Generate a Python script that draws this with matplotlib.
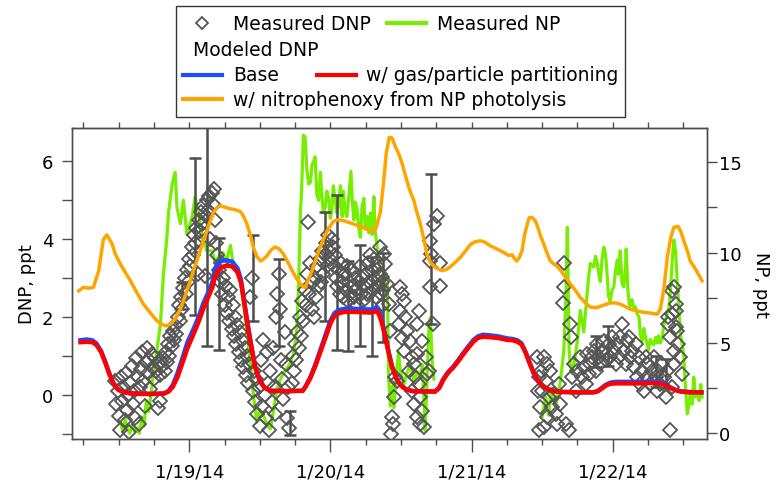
import numpy as np
import matplotlib
matplotlib.use('Agg')
import matplotlib.pyplot as plt
from matplotlib.lines import Line2D
from matplotlib.patches import Rectangle
from matplotlib.ticker import NullFormatter

plt.rcParams['font.family'] = 'DejaVu Sans'
plt.rcParams['font.size'] = 13

# time axis: hours since 1/19/14 00:00
day_ticks = [0, 24, 48, 72]
day_labels = ['1/19/14', '1/20/14', '1/21/14', '1/22/14']

# measured DNP (ppt, left axis)
dnp_h = [-12.6, -12.4, -12.2, -12.0, -11.8, -11.6, -11.4, -11.2, -11.0, -10.8, -10.6, -10.4, -10.2, -10.0,
         -9.8, -9.6, -9.4, -9.2, -9.0, -8.8, -8.6, -8.4, -8.2, -8.0, -7.8, -7.6, -7.4, -7.2, -7.0, -6.8,
         -6.6, -6.4, -6.2, -6.0, -5.8, -5.6, -5.4, -5.2, -5.0, -4.9,
         -4.6, -4.4, -4.2, -4.0, -3.8, -3.6, -3.4, -3.2, -3.0, -2.8, -2.6, -2.4, -2.2, -2.0, -1.8, -1.6,
         -1.4, -1.2, -1.0, -0.8, -0.6, -0.4, -0.2, 0.0, 0.2, 0.4, 0.6, 0.8, 1.0, 1.2, 1.4, 1.6, 1.8, 2.0,
         2.2, 2.4, 2.6, 2.8, 3.0, 3.2, 3.4, 3.6, 3.8, 4.0, 4.2, 4.4, 4.6,
         4.8, 5.0, 5.2, 5.4, 5.6, 5.8, 6.0, 6.2, 6.4, 6.6, 6.8, 7.0, 7.2, 7.4, 7.6, 7.8, 8.0, 8.2, 8.4,
         8.6, 8.8, 9.0, 9.2, 9.4, 9.6, 9.8, 10.0, 10.2, 10.4, 10.6, 10.8, 11.0, 11.2, 11.4, 11.6, 11.8,
         12.0, 12.2, 12.4, 12.6, 12.8, 13.0, 13.2, 13.4, 13.6, 13.8, 14.0, 14.2, 14.4, 14.6, 14.8, 15.0,
         15.2, 15.4, 15.6, 15.8, 16.0, 16.2, 16.4, 16.6, 16.8, 17.0,
         17.4, 17.6, 17.8, 18.0, 18.2, 18.4, 18.6, 18.8, 19.0, 19.2, 19.4, 19.6, 19.8, 20.0, 20.2, 20.4,
         20.6, 20.8, 21.0, 21.2, 21.4, 21.6, 21.8, 22.0, 22.2, 22.4, 22.6, 22.8, 23.0, 23.2, 23.4, 23.6,
         23.8, 24.0, 24.2, 24.4, 24.6, 24.8, 25.0,
         25.2, 25.4, 25.6, 25.8, 26.0, 26.2, 26.4, 26.6, 26.8, 27.0, 27.2, 27.4, 27.6, 27.8, 28.0, 28.2,
         28.4, 28.6, 28.8, 29.0, 29.2, 29.4, 29.6, 29.8, 30.0, 30.2, 30.4, 30.6, 30.8, 31.0, 31.2, 31.4,
         31.6, 31.8, 32.0, 32.2, 32.4, 32.6, 32.8, 33.0,
         32.5, 33.1, 33.3, 32.8, 33.6, 33.0, 33.9, 34.2, 35.0, 35.3, 34.8, 34.5, 34.6, 34.3, 35.9, 36.2,
         36.5, 35.9, 36.7, 35.6, 37.0, 36.2, 37.6, 36.5, 37.9, 38.2, 37.3, 38.4, 38.7, 39.0, 37.9, 39.3,
         38.2, 39.6, 38.7, 39.3, 39.9, 40.5, 40.2, 39.6, 39.0, 38.7, 41.0, 41.1, 41.0, 41.6, 42.2, 42.6,
         42.6, 41.0, 41.4, 40.8,
         59.1, 59.4, 59.7, 59.5, 59.9, 59.3,
         60.3, 60.8, 61.4, 60.6, 60.0, 61.1, 62.0, 61.7, 60.8, 62.3, 62.5, 60.3, 63.1, 62.8, 64.0, 64.5,
         63.7, 63.7, 63.6, 64.8, 64.9, 65.4, 65.1, 65.9, 65.7, 66.5, 66.8, 67.1, 67.4, 67.6, 67.9, 68.2,
         68.5, 68.8, 69.1, 69.3, 69.6, 69.9, 70.2, 70.5, 70.8, 71.0, 71.3, 71.6, 71.9, 72.2, 72.5, 72.7,
         73.0, 73.3, 73.6, 73.9, 74.2, 74.4, 74.7, 75.0, 75.3, 75.6, 75.9, 76.1, 76.4, 76.7, 77.0, 77.3,
         77.6, 77.8, 78.1, 78.4, 78.7, 79.0, 79.3, 79.5, 79.8, 80.1, 80.4, 80.7, 81.0, 81.2, 81.4, 81.5,
         81.7, 81.8, 82.1, 82.4, 82.7, 82.8, 82.9, 82.4, 83.2, 83.5, 83.8, 82.4, 82.1, 82.7, 82.1]
dnp_v = [0.35, -0.25, 0.1, -0.55, -0.9, 0.45, -0.15, 0.2, -0.65, 0.55, -0.4, 0.0, -0.95, 0.3,
         0.75, -0.25, 0.1, -0.6, 0.95, 0.45, -0.75, 0.2, 0.65, 1.1, 0.35, -0.3, 0.85, 1.2, 0.55, 0.9,
         0.15, 1.05, 0.7, 0.4, 0.95, 0.6, -0.35, 0.8, -0.15, 0.5,
         0.75, 0.95, 0.6, 1.1, 0.85, 1.3, 1.0, 1.5, 1.25, 1.65, 1.4, 1.8, 1.55, 2.0, 2.3, 1.9,
         2.5, 2.2, 2.75, 3.0, 2.6, 3.2, 2.9, 3.5, 3.3, 3.8, 3.6, 4.1, 3.9, 4.3, 3.1, 4.5, 4.2, 4.7,
         4.4, 4.85, 3.05, 4.6, 5.0, 4.75, 5.1, 4.0, 5.2, 4.9, 5.3, 4.5, 3.9,
         3.6, 3.2, 2.9, 3.4, 2.6, 3.0, 2.3, 2.8, 2.1, 2.5, 1.9, 2.7, 1.7, 2.3, 1.5, 2.0, 1.3, 1.8, 1.1,
         1.6, 0.9, 1.4, 0.7, 1.2, 0.5, 1.0, 0.3, 0.8, 2.5, 3.0, 0.1, 0.6, -0.2, 0.4, -0.5, 0.2,
         -0.8, 0.9, -0.3, 1.4, 0.0, -0.6, 1.1, 0.3, -0.9, 0.6, -0.2, 1.2, 0.2, -0.5, 2.0, 2.6,
         3.1, 2.2, 0.9, 0.4, -0.1, 1.6, 0.8, -0.6, 0.2, -0.85,
         0.3, 1.0, 0.6, 1.3, 0.9, 1.6, 1.2, 2.0, 1.5, 2.4, 1.9, 2.7, 2.3, 3.1, 4.45, 2.6,
         3.4, 2.2, 2.9, 2.0, 3.0, 2.5, 3.3, 2.8, 3.5, 2.9, 3.7, 3.1, 3.6, 3.9, 3.3, 4.1,
         3.7, 3.5, 4.0, 3.8, 3.3, 3.6, 3.0,
         2.8, 3.2, 2.6, 3.4, 2.9, 2.5, 3.1, 2.7, 3.3, 2.4, 2.9, 2.6, 3.2, 2.8, 2.5, 3.0,
         2.7, 2.3, 2.9, 3.3, 2.6, 3.0, 2.4, 2.8, 3.1, 2.6, 3.4, 2.9, 3.6, 3.2, 2.7, 3.5,
         3.0, 2.5, 3.3, 2.8, 3.1, 2.6, 2.9, 2.3,
         3.79, 3.62, 3.36, 3.02, 2.85, 2.68, 2.33, 1.65, 0.45, 0.36, -0.07, -0.58, -0.75, -1.0, 2.76, 2.59,
         2.42, 2.16, 1.99, 1.82, 1.65, 1.47, 1.39, 1.13, 0.96, 0.79, 0.62, 0.45, 1.05, 0.27, 0.10, -0.07,
         -0.24, -0.41, -0.58, -0.75, -0.84, 0.53, 0.96, 1.39, 2.16, 1.82, 3.96, 3.62, 3.45, 4.39, 4.6, 3.39,
         2.80, 2.76, 1.82, 0.62,
         0.96, 0.45, -0.32, -0.92, 0.62, 0.10,
         0.96, 0.79, 0.62, 0.36, 0.10, -0.07, 0.02, -0.32, -0.58, -0.50, -0.75, -0.84, -0.24, 0.28, -0.75, -0.92,
         3.40, 2.76, 2.37, 1.82, 1.48, 0.79, 0.45, 0.62, 0.10, 0.96, 0.45, 0.70, 0.28, 1.05, 0.53, 0.79,
         0.96, 1.13, 0.62, 1.30, 0.96, 0.79, 1.13, 1.39, 0.88, 1.05, 1.30, 0.96, 1.48, 1.13, 0.79, 1.30,
         0.96, 1.48, 1.82, 1.13, 0.79, 1.39, 1.48, 0.96, 1.13, 0.70, 1.30, 0.45, 0.96, 0.28, 0.62, 0.10,
         0.96, 0.45, 0.79, 0.28, 0.62, 0.96, 0.45, 0.10, 0.62, 0.28, 0.79, 0.45, -0.07, 0.62, 1.82, 1.99,
         1.48, -0.92, 2.67, 2.76, 2.33, 2.16, 1.65, 1.13, 1.30, 0.96, 0.53, 0.79, 0.19, 1.73, 2.08]

# error bars on measured DNP
err_h = [-1.2, 1.0, 3.0, 5.0, 10.8, 15.2, 17.2, 23.1, 25.1, 27.0, 29.1, 31.1, 33.0, 41.1, 69.1, 71.2, 79.3, 81.0]
err_v = [2.55, 4.07, 4.1, 2.6, 3.0, 2.37, -0.73, 3.3, 3.14, 2.29, 2.56, 2.26, 2.5, 3.75, 1.1, 1.25, 0.6, 0.55]
err_e = [0.35, 2.03, 2.85, 1.44, 1.1, 1.12, 0.32, 1.4, 2.0, 1.16, 1.3, 1.27, 1.15, 1.92, 0.4, 0.52, 0.4, 0.37]

# measured NP (ppt, right axis); nan = no data
np_h = [-11.7, -11.3, -10.9, -10.5, -10.1, -9.7, -9.3, -8.9, -8.5, -8.1, -7.7, -7.3, -6.9, -6.5, -6.1,
        -5.5, -4.9, -4.4, -3.8, -3.5, -2.9, -2.4, -2.1, -1.5, -1.0, -0.4, 0.5, 1.0, 1.6, 2.2, 3.0,
        3.9, 4.4, 5.0, 5.7, 6.3, 7.0, 7.5, 8.1, 8.7, 9.2, 9.8, 10.4, 10.9, 11.5, 12.0, 12.6, 13.2,
        13.8, 14.3, 14.9, 15.5, 16.0, 16.6, 17.2, 17.8, 18.3, 18.6, 18.9, 19.1, 19.4, 19.7, 20.0,
        20.3, 20.6, 20.9, 21.1, 21.4, 21.7, 22.0, 22.3, 22.6, 22.8, 23.1, 23.4, 23.7, 24.0, 24.2,
        24.5, 24.8, 25.1, 25.4, 25.7, 26.0, 26.2, 26.5, 26.8, 27.1, 27.5, 27.7, 28.0, 28.2, 28.5,
        28.8, 29.1, 29.4, 29.7, 29.9, 30.2, 30.5, 30.8, 31.1, 31.4, 31.6, 31.9, 32.2, 32.5, 33.1,
        33.4, 33.7, 33.9, 34.2, 34.5, 34.8, 35.2, 35.6, 35.9, 36.5, 37.0, 37.6, 38.2, 38.8, 39.3,
        39.6, 39.9, 40.1, 40.4, 40.7, 41.0, 41.3, 41.6, 50.0,
        60.0, 60.6, 61.1, 61.6, 62.3, 63.1, 63.7, 64.0, 64.3, 64.6, 64.8, 65.1, 65.7, 66.0, 66.5,
        67.1, 67.7, 67.9, 68.2, 68.8, 69.1, 69.4, 69.6, 69.9, 70.2, 70.5, 70.8, 71.1, 71.3, 71.6,
        71.9, 72.2, 72.5, 72.8, 73.0, 73.3, 73.6, 73.9, 74.2, 74.3, 74.6, 74.9, 75.3, 75.6, 75.9,
        76.2, 76.5, 76.7, 77.0, 77.3, 77.6, 77.9, 78.1, 78.4, 78.7, 79.0, 79.3, 79.6, 79.8, 80.1,
        80.4, 80.7, 81.0, 81.3, 81.6, 81.9, 82.1, 82.4, 82.7, 83.0, 83.3, 83.6, 83.9, 84.1, 84.4,
        84.7, 85.0, 85.2, 85.5, 85.8, 86.1, 86.4, 86.7, 87.0, 87.2]
np_v = [0.6, 0.1, 0.8, 0.2, 0.0, 0.5, 0.1, 0.3, 0.0, 0.9, 0.4, 1.8, 1.2, 2.2, 3.3,
        4.6, 6.05, 8.8, 10.85, 12.3, 13.8, 14.45, 12.5, 11.6, 12.9, 11.0, 12.0, 13.1, 12.1, 10.85, 10.1,
        10.1, 9.4, 9.8, 10.0, 9.5, 10.4, 9.3, 9.0, 8.5, 7.3, 5.6, 3.9, 2.1, 0.6, 1.3, 1.0, 0.5,
        0.24, 1.2, 2.45, 3.0, 3.3, 3.6, 3.9, 4.5, 5.8, 8.3, 12.2, 13.4, 16.5, 16.4, 14.6,
        13.8, 13.9, 14.9, 15.0, 15.3, 13.2, 12.9, 14.45, 13.0, 12.2, 12.5, 13.4, 13.0, 11.9, 12.3,
        13.7, 12.9, 12.2, 12.6, 13.7, 12.0, 13.4, 12.3, 12.0, 13.0, 14.5, 13.0, 11.8, 12.8, 12.5,
        11.4, 10.85, 12.6, 13.0, 11.3, 12.0, 11.1, 12.2, 11.0, 13.1, 11.2, 10.5, 9.4, 9.2, 8.8,
        7.9, 8.3, 3.1, 1.5, 2.6, 1.4, 3.3, 4.5, 3.4, 2.7, 3.3, 3.8, 2.9, 3.4, 3.1,
        3.8, 2.0, 0.14, 2.5, 5.5, 6.4, 4.0, 3.0, np.nan,
        0.9, 2.0, 1.0, 2.5, 1.5, 2.8, 4.6, 7.0, 11.4, 4.6, 3.8, 3.3, 4.4, 5.1, 6.8,
        5.6, 7.8, 8.6, 9.4, 9.2, 9.8, 9.4, 8.9, 8.4, 9.6, 10.3, 9.9, 8.6, 7.6, 7.3,
        7.9, 8.1, 9.0, 9.6, 8.8, 10.1, 8.3, 8.1, 9.2, 10.2, 7.9, 7.0, 7.4, 6.9, 7.0,
        6.6, 6.4, 5.5, 5.1, 5.8, 5.3, 4.9, 4.6, 5.2, 5.0, 4.9, 5.3, 5.0, 5.4, 5.0,
        5.2, 6.0, 6.3, 6.6, 7.0, 8.2, 9.4, 10.7, 10.1, 8.3, 6.8, 5.3, 4.8, 4.2, 2.5,
        1.07, 1.6, 2.2, 1.6, 3.1, 2.0, 2.3, 1.8, 2.7, 2.0]

# modeled DNP: base and w/ gas/particle partitioning
mod_h = [-18.5, -17.5, -16.5, -15.8, -15.0, -14.3, -13.6, -12.9, -12.2, -11.3, -10.2, -8.3, -5.8, -4.3,
         -3.5, -2.8, -2.0, -1.2, -0.3, 0.7, 1.6, 2.4, 3.2, 3.9, 4.4, 4.9, 5.5, 6.3, 7.3, 8.2, 8.8,
         9.3, 9.9, 10.5, 11.2, 12.0, 12.8, 13.8, 16.3, 19.3, 19.8, 20.6, 21.5, 22.3, 23.2, 24.0, 24.7,
         25.5, 26.5, 28.0, 29.5, 31.0, 31.6, 31.9, 32.3, 32.8, 33.3, 33.9, 34.5, 35.2, 35.9, 36.9, 38.1,
         41.8, 42.5, 43.2, 44.0, 44.9, 45.8, 46.6, 47.5, 48.3, 49.1, 49.9, 51.0, 52.5, 54.0, 55.0, 55.8,
         56.5, 57.2, 57.9, 58.6, 59.4, 60.2, 61.0, 62.0, 63.5, 66.0, 68.7, 69.4, 70.1, 70.8, 71.6, 72.5,
         75.0, 77.0, 78.5, 80.0, 80.9, 81.7, 82.6, 83.5, 85.0, 87.1]
base_v = [1.40, 1.42, 1.40, 1.32, 1.12, 0.85, 0.55, 0.30, 0.15, 0.07, 0.04, 0.02, 0.02, 0.03,
          0.10, 0.25, 0.55, 0.92, 1.35, 1.68, 2.0, 2.35, 2.62, 2.88, 3.25, 3.38, 3.44, 3.46, 3.42, 3.25, 2.95,
          2.45, 1.85, 1.30, 0.72, 0.36, 0.18, 0.10, 0.09, 0.10, 0.22, 0.45, 0.80, 1.15, 1.55, 1.90, 2.10,
          2.18, 2.21, 2.21, 2.20, 2.19, 2.22, 2.26, 2.15, 1.90, 1.55, 1.10, 0.72, 0.42, 0.25, 0.13, 0.09,
          0.08, 0.18, 0.40, 0.58, 0.72, 0.90, 1.07, 1.25, 1.40, 1.50, 1.54, 1.53, 1.50, 1.45, 1.43, 1.40,
          1.32, 1.10, 0.82, 0.55, 0.35, 0.22, 0.14, 0.09, 0.07, 0.06, 0.06, 0.09, 0.17, 0.25, 0.31, 0.33,
          0.33, 0.33, 0.34, 0.33, 0.28, 0.20, 0.13, 0.09, 0.07, 0.06]
gp_v = [1.35, 1.36, 1.35, 1.28, 1.10, 0.83, 0.53, 0.29, 0.14, 0.07, 0.04, 0.02, 0.02, 0.03,
        0.08, 0.20, 0.45, 0.80, 1.20, 1.55, 1.88, 2.22, 2.50, 2.75, 3.05, 3.20, 3.28, 3.32, 3.30, 3.15, 2.88,
        2.40, 1.80, 1.28, 0.71, 0.35, 0.18, 0.10, 0.09, 0.10, 0.21, 0.43, 0.76, 1.10, 1.48, 1.83, 2.03,
        2.10, 2.13, 2.13, 2.12, 2.11, 2.14, 2.16, 2.05, 1.82, 1.50, 1.08, 0.70, 0.42, 0.25, 0.13, 0.09,
        0.08, 0.17, 0.38, 0.56, 0.70, 0.87, 1.04, 1.21, 1.36, 1.46, 1.49, 1.48, 1.46, 1.41, 1.40, 1.36,
        1.29, 1.08, 0.80, 0.54, 0.34, 0.22, 0.14, 0.09, 0.07, 0.06, 0.06, 0.08, 0.15, 0.23, 0.28, 0.29,
        0.29, 0.29, 0.30, 0.29, 0.25, 0.18, 0.12, 0.08, 0.06, 0.06]

# modeled DNP w/ nitrophenoxy from NP photolysis
nphx_h = [-18.8, -18.0, -17.2, -16.3, -15.4, -14.6, -14.0, -13.1, -12.6, -11.7, -10.9, -10.0, -8.9, -7.8,
          -6.6, -5.5, -4.6, -3.8, -3.1, -2.4, -1.5, -1.0, -0.1, 0.7, 1.6, 2.4, 3.3, 4.1, 4.7, 5.3, 6.1,
          7.0, 7.8, 8.7, 9.2, 9.8, 10.4, 10.9, 11.5, 12.1, 12.6, 13.2, 13.9, 14.6, 15.3, 16.0, 16.8,
          17.5, 18.2, 18.9, 19.4, 19.7, 20.4, 21.1, 21.9, 22.8, 23.6, 24.5, 25.3, 26.2, 27.0, 27.9,
          28.7, 29.6, 30.4, 31.3, 31.8, 32.5, 33.0, 33.5, 34.0, 34.5, 35.0, 35.6, 36.2, 36.7, 37.4,
          38.2, 38.7, 39.3, 39.9, 40.4, 41.0, 41.8, 43.0, 43.7, 44.4, 45.2, 46.1, 47.0, 47.8, 48.6,
          49.5, 50.3, 51.2, 52.3, 53.5, 54.3, 54.9, 55.3, 55.7, 56.1, 56.6, 57.0, 57.5, 57.8, 58.3,
          58.7, 59.1, 59.7, 60.3, 60.9, 61.4, 62.0, 62.6, 63.2, 64.0, 64.8, 65.7, 66.5, 67.4, 68.2,
          69.3, 70.4, 71.6, 72.5, 73.3, 74.1, 75.0, 76.2, 77.3, 78.4, 79.6, 80.1, 80.7, 81.3, 81.9,
          82.4, 83.1, 83.6, 84.1, 84.7, 85.2, 85.8, 86.4, 87.2]
nphx_v = [2.67, 2.76, 2.74, 2.76, 3.19, 4.0, 4.11, 3.87, 3.62, 3.36, 3.15, 2.93, 2.62, 2.33,
          2.1, 1.90, 1.8, 1.77, 1.83, 1.95, 2.2, 2.42, 2.8, 3.19, 3.58, 3.96, 4.35, 4.69, 4.8, 4.86, 4.82,
          4.78, 4.76, 4.71, 4.6, 4.39, 4.1, 3.79, 3.55, 3.44, 3.48, 3.57, 3.72, 3.80, 3.75, 3.62, 3.4,
          3.19, 3.0, 2.85, 2.77, 2.76, 3.0, 3.28, 3.65, 4.0, 4.25, 4.46, 4.5, 4.48, 4.44, 4.39,
          4.35, 4.30, 4.25, 4.20, 4.3, 4.7, 5.4, 6.2, 6.62, 6.6, 6.4, 6.2, 5.95, 5.67, 5.3,
          4.99, 4.7, 4.39, 4.0, 3.62, 3.4, 3.28, 3.19, 3.22, 3.29, 3.4, 3.53, 3.7, 3.86, 3.93,
          3.96, 3.92, 3.83, 3.75, 3.66, 3.58, 3.6, 3.5, 3.44, 3.52, 3.70, 4.1, 4.39, 4.55, 4.56,
          4.5, 4.39, 4.1, 3.87, 3.62, 3.44, 3.36, 3.3, 3.19, 3.02, 2.85, 2.68, 2.50, 2.36, 2.25,
          2.24, 2.3, 2.36, 2.36, 2.33, 2.27, 2.20, 2.15, 2.12, 2.1, 2.07, 2.2, 2.7, 3.53, 4.05,
          4.30, 4.33, 4.2, 3.96, 3.7, 3.44, 3.3, 3.15, 2.93]

gray = '#4d4d4d'
c_np = '#76ee00'
c_base = '#1a4dff'
c_gp = '#ff0000'
c_nphx = '#ffa500'

fig = plt.figure(figsize=(7.79, 4.85), dpi=100)
ax = fig.add_axes([0.092, 0.0928, 0.8152, 0.6412])
ax2 = ax.twinx()
ax.set_zorder(ax2.get_zorder() + 1)
ax.patch.set_visible(False)

# NP on the right axis, beneath everything
ax2.plot(np_h, np_v, color=c_np, lw=2.3)
ax2.set_ylim(-0.32, 16.9)
ax2.set_yticks([0, 5, 10, 15])
ax2.set_yticks([2.5, 7.5, 12.5], minor=True)
ax2.tick_params(axis='y', which='both', direction='out', length=7, width=1, color=gray, pad=2)
ax2.set_ylabel('NP, ppt', rotation=270, va='center')
ax2.yaxis.set_label_coords(1.085, 0.5)

# DNP on the left axis
ax.errorbar(err_h, err_v, yerr=err_e, fmt='none', ecolor=gray, elinewidth=1.8,
            capsize=4, capthick=1.8, zorder=2)
ax.plot(dnp_h, dnp_v, 'D', ms=7, mfc='none', mec='#555555', mew=1.3, zorder=3)
ax.plot(nphx_h, nphx_v, color=c_nphx, lw=2.5, zorder=4)
ax.plot(mod_h, base_v, color=c_base, lw=3.2, zorder=5)
ax.plot(mod_h, gp_v, color=c_gp, lw=3.2, zorder=6)

ax.set_xlim(-20, 88)
ax.set_ylim(-1.14, 6.86)
ax.set_yticks([0, 2, 4, 6])
ax.set_yticks([-1, 1, 3, 5], minor=True)
ax.tick_params(axis='y', which='both', direction='out', length=7, width=1, color=gray, pad=6)
ax.set_ylabel('DNP, ppt', va='center')
ax.yaxis.set_label_coords(-0.07, 0.5)

ax.set_xticks(day_ticks)
ax.set_xticklabels(day_labels)
ax.set_xticks(list(range(-18, 88, 6)), minor=True)
ax.tick_params(axis='x', which='major', direction='out', length=9, width=1, color=gray, pad=8)
ax.tick_params(axis='x', which='minor', direction='out', length=4, width=1, color=gray)

top = ax.secondary_xaxis('top')
top.set_xticks(list(range(-18, 88, 6)))
top.xaxis.set_major_formatter(NullFormatter())
top.tick_params(axis='x', direction='out', length=4, width=1, color=gray)

for a in (ax, ax2):
    for s in a.spines.values():
        s.set_color(gray)
        s.set_linewidth(1)
top.spines['top'].set_color(gray)

# legend box drawn in figure space
leg_fs = 13.5
fig.add_artist(Rectangle((0.2259, 0.7567), 0.5764, 0.2289, transform=fig.transFigure,
                         fill=False, ec='#333333', lw=1))
rows = [0.9505, 0.8969, 0.8433, 0.7938]
fig.add_artist(Line2D([0.2593], [rows[0]], marker='D', ms=6, mfc='none', mec='#555555', mew=1.3,
                      transform=fig.transFigure))
fig.text(0.2987, rows[0], 'Measured DNP', va='center', fontsize=leg_fs)
fig.add_artist(Line2D([0.4968, 0.5469], [rows[0]] * 2, color=c_np, lw=3, transform=fig.transFigure))
fig.text(0.5606, rows[0], 'Measured NP', va='center', fontsize=leg_fs)
fig.text(0.2474, rows[1], 'Modeled DNP', va='center', fontsize=leg_fs)
fig.add_artist(Line2D([0.2349, 0.2850], [rows[2]] * 2, color=c_base, lw=3, transform=fig.transFigure))
fig.text(0.2987, rows[2], 'Base', va='center', fontsize=leg_fs)
fig.add_artist(Line2D([0.4069, 0.4570], [rows[2]] * 2, color=c_gp, lw=3, transform=fig.transFigure))
fig.text(0.4698, rows[2], 'w/ gas/particle partitioning', va='center', fontsize=leg_fs)
fig.add_artist(Line2D([0.2349, 0.2850], [rows[3]] * 2, color=c_nphx, lw=3, transform=fig.transFigure))
fig.text(0.2987, rows[3], 'w/ nitrophenoxy from NP photolysis', va='center', fontsize=leg_fs)

fig.savefig('out.png', dpi=100)
